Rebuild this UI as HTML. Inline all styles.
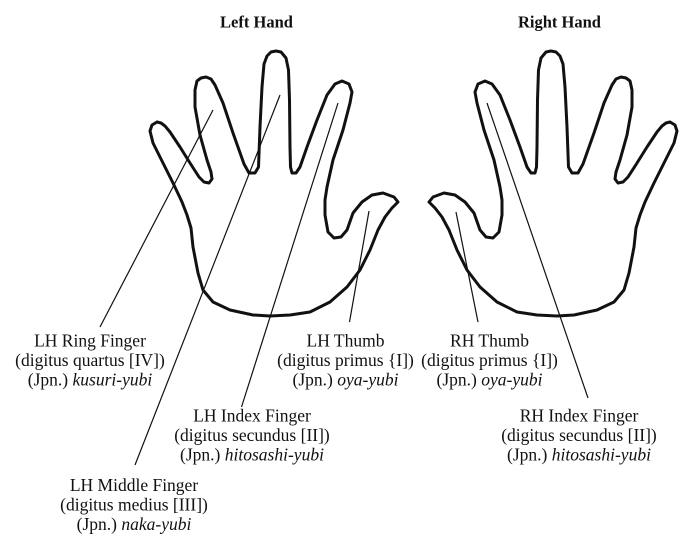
<!DOCTYPE html>
<html>
<head>
<meta charset="utf-8">
<style>
  html, body { margin: 0; padding: 0; background: #fff; }
  body { width: 700px; height: 543px; overflow: hidden; }
  svg { display: block; }
  text { font-family: "Liberation Serif", serif; fill: #111; }
  .lbl { font-size: 17.5px; }
  .ttl { font-size: 16.5px; font-weight: bold; }
  .it { font-style: italic; }
</style>
</head>
<body>
<svg width="700" height="543" viewBox="0 0 700 543" xmlns="http://www.w3.org/2000/svg">
  <defs>
    <polyline id="hand" fill="none" stroke="#111" stroke-width="3" stroke-linejoin="round" stroke-linecap="round"
      points="157,122 152,125 150,131 153,143 163,163 173,183 182,202 187,215 191,228 193,247 198,273 203,290 213,302 230,310 253,315 270,316 290,315 310,312 330,302 347,287 360,270 370,250 378,230 385,217 392,208 398,202 394,197 383,193 372,195 362,202 353,213 347,230 341,237 334,238 328,232 325,215 325,200 327,187 333,160 343,130 350,103 352,92 349,84 342,81 335,84 327,95 317,120 307,147 300,167 296,173 292,173 290.5,167 290,147 289.5,100 288.5,70 286,58 281,52 276,51 271,52 267,56 264,64 262,87 260,127 258.5,167 255,173 249,173 244,164 233,133 223,103 215,85 211,79 206,77 201,78 197,81 195,90 195,107 200,135 207,160 211,172 212,179 209,183 204,182 199,177 190,163 180,147 170,132 165,126 161,123 157,122"/>
  </defs>

  <!-- Left hand -->
  <use href="#hand"/>
  <!-- Right hand (mirror) -->
  <g transform="translate(827,0) scale(-1,1)">
    <use href="#hand"/>
  </g>

  <!-- Connector lines -->
  <g stroke="#111" stroke-width="1.2" fill="none">
    <line x1="213" y1="110" x2="100" y2="327"/>
    <line x1="280" y1="95" x2="135" y2="465"/>
    <line x1="338" y1="103" x2="241.5" y2="407"/>
    <line x1="369" y1="211" x2="349.5" y2="322"/>
    <line x1="456" y1="212" x2="478" y2="322"/>
    <line x1="487" y1="103" x2="588" y2="398"/>
  </g>

  <!-- Titles -->
  <text class="ttl" x="256.5" y="27.5" text-anchor="middle">Left Hand</text>
  <text class="ttl" x="559.5" y="27.5" text-anchor="middle">Right Hand</text>

  <!-- LH Ring -->
  <g class="lbl" text-anchor="middle">
    <text class="lbl" x="90" y="346.5" text-anchor="middle">LH Ring Finger</text>
    <text class="lbl" x="90" y="366" text-anchor="middle">(digitus quartus [IV])</text>
    <text class="lbl" x="90" y="385.5" text-anchor="middle">(Jpn.) <tspan class="it">kusuri-yubi</tspan></text>
  </g>

  <!-- LH Thumb -->
  <text class="lbl" x="345.5" y="346.5" text-anchor="middle">LH Thumb</text>
  <text class="lbl" x="345.5" y="366" text-anchor="middle">(digitus primus {I])</text>
  <text class="lbl" x="345.5" y="385.5" text-anchor="middle">(Jpn.) <tspan class="it">oya-yubi</tspan></text>

  <!-- RH Thumb -->
  <text class="lbl" x="489.5" y="346.5" text-anchor="middle">RH Thumb</text>
  <text class="lbl" x="489.5" y="366" text-anchor="middle">(digitus primus {I])</text>
  <text class="lbl" x="489.5" y="385.5" text-anchor="middle">(Jpn.) <tspan class="it">oya-yubi</tspan></text>

  <!-- LH Index -->
  <text class="lbl" x="252" y="421.7" text-anchor="middle">LH Index Finger</text>
  <text class="lbl" x="252" y="441.2" text-anchor="middle">(digitus secundus [II])</text>
  <text class="lbl" x="252" y="460.7" text-anchor="middle">(Jpn.) <tspan class="it">hitosashi-yubi</tspan></text>

  <!-- RH Index -->
  <text class="lbl" x="579" y="421.7" text-anchor="middle">RH Index Finger</text>
  <text class="lbl" x="579" y="441.2" text-anchor="middle">(digitus secundus [II])</text>
  <text class="lbl" x="579" y="460.7" text-anchor="middle">(Jpn.) <tspan class="it">hitosashi-yubi</tspan></text>

  <!-- LH Middle -->
  <text class="lbl" x="134" y="491" text-anchor="middle">LH Middle Finger</text>
  <text class="lbl" x="134" y="510.5" text-anchor="middle">(digitus medius [III])</text>
  <text class="lbl" x="134" y="530" text-anchor="middle">(Jpn.) <tspan class="it">naka-yubi</tspan></text>
</svg>
</body>
</html>
